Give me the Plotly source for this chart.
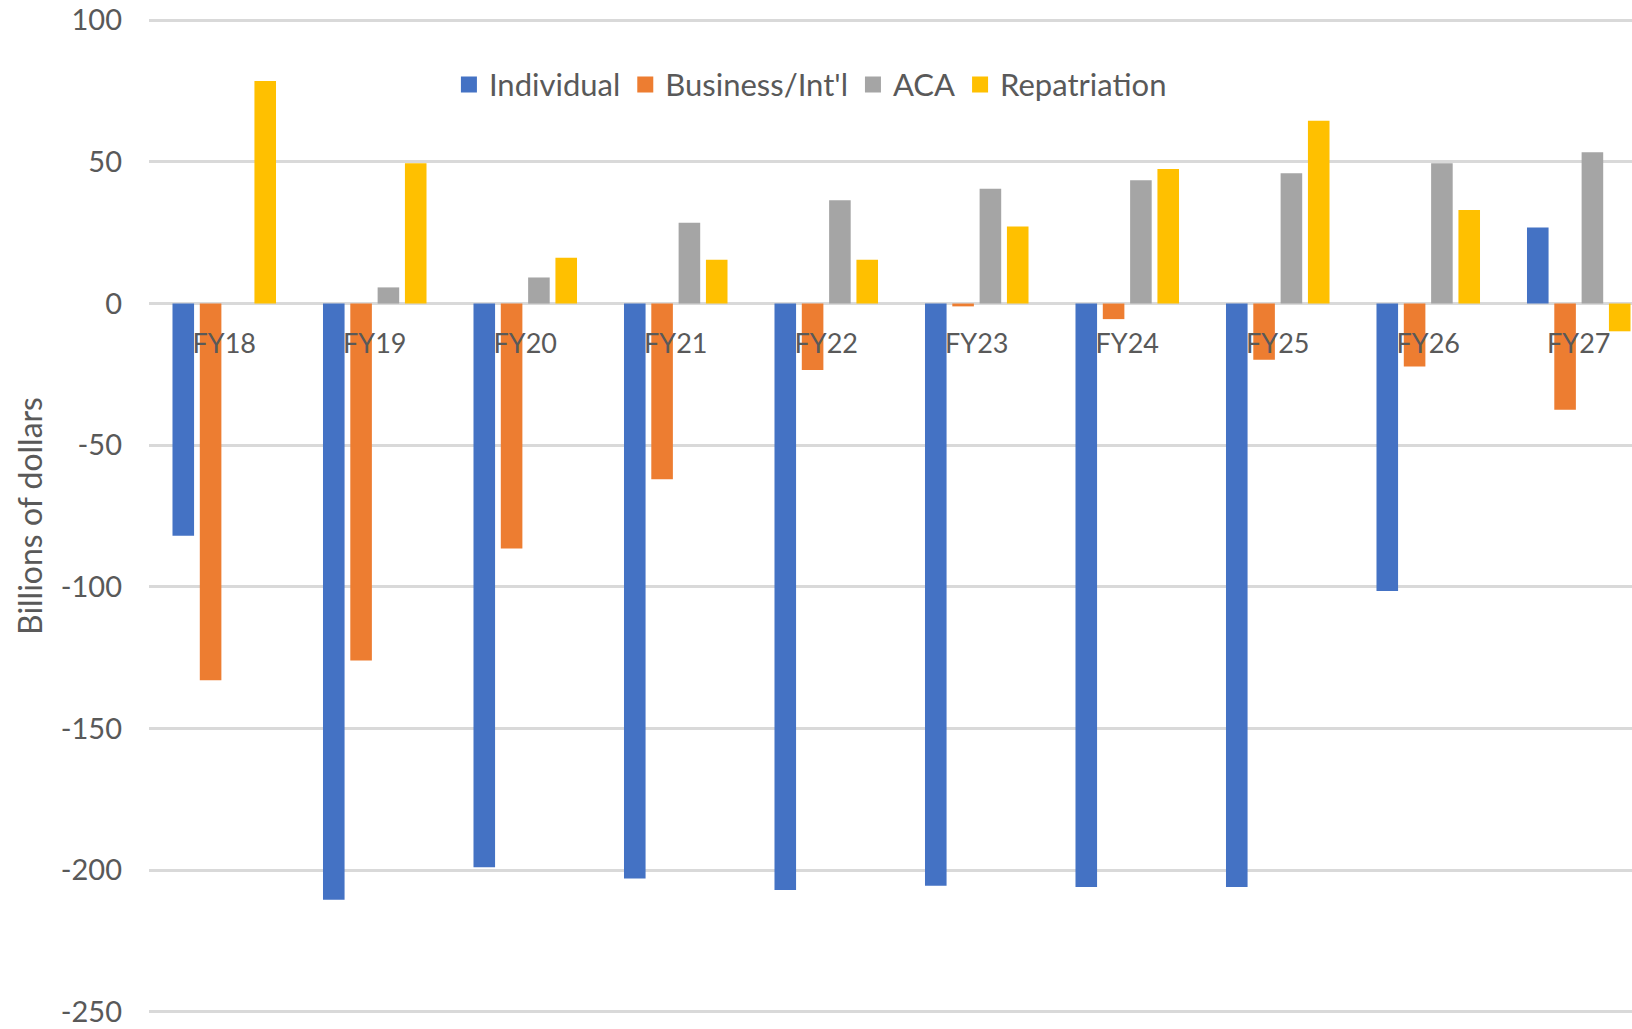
import plotly.graph_objects as go

categories = ["FY18", "FY19", "FY20", "FY21", "FY22", "FY23", "FY24", "FY25", "FY26", "FY27"]
individual = [-82, -210.5, -199, -203, -207, -205.5, -206, -206, -101.5, 26.8]
business = [-133, -126, -86.5, -62, -23.5, -1, -5.5, -19.8, -22.2, -37.5]
aca = [0, 5.7, 9.2, 28.5, 36.5, 40.5, 43.5, 46, 49.5, 53.4]
repatriation = [78.6, 49.5, 16.2, 15.5, 15.5, 27.2, 47.5, 64.5, 33, -9.8]

series_names = ["Individual", "Business/Int'l", "ACA", "Repatriation"]
series_colors = ["#4472C4", "#ED7D31", "#A5A5A5", "#FFC000"]

ytick_vals = [100, 50, 0, -50, -100, -150, -200, -250]
ytick_text = ["100", "50", "0", "-50", "-100", "-150", "-200", "-250"]

FONT = "Lato"
TEXT_COLOR = "#595959"

fig = go.Figure()
for name, vals, col in zip(series_names, [individual, business, aca, repatriation], series_colors):
    fig.add_trace(go.Bar(
        x=categories, y=vals, name=name, showlegend=False,
        marker=dict(color=col, line=dict(width=0)),
    ))
# legend entries with larger square swatches
for name, col in zip(series_names, series_colors):
    fig.add_trace(go.Scatter(
        x=[None], y=[None], name=name, mode="markers",
        marker=dict(symbol="square", size=16, color=col),
    ))

W, H = 1632, 1029
top_px, bottom_px = 19.8, 1011.7
px_per_unit = (bottom_px - top_px) / 350
pad_units = 0.8
ml, mr = 149, 0
mt = top_px - pad_units * px_per_unit
mb = (H - bottom_px) - pad_units * px_per_unit
cat_px = 150.5
plot_w = W - ml - mr
x_end = -0.5 + plot_w / cat_px

fig.update_layout(
    width=W, height=H,
    margin=dict(l=ml, r=mr, t=mt, b=mb, pad=0),
    paper_bgcolor="white", plot_bgcolor="white",
    barmode="group", bargap=0.274, bargroupgap=0.21,
    font=dict(family=FONT, color=TEXT_COLOR),
    showlegend=True,
    legend=dict(
        orientation="h", x=0.446, xanchor="center", y=0.933, yanchor="middle",
        font=dict(family=FONT, size=31, color=TEXT_COLOR),
        bgcolor="rgba(0,0,0,0)", itemsizing="trace",
    ),
    xaxis=dict(
        type="category", range=[-0.5, x_end],
        anchor="free", position=(250 - pad_units) / (350 + 2 * pad_units),
        showgrid=False, showline=False, zeroline=False, ticks="",
        tickfont=dict(family=FONT, size=27, color=TEXT_COLOR),
        ticklabelstandoff=17,
    ),
    yaxis=dict(
        range=[-250 - pad_units, 100 + pad_units], tickvals=ytick_vals, ticktext=ytick_text,
        showgrid=True, gridcolor="#D9D9D9", gridwidth=2.5,
        zeroline=True, zerolinecolor="#D9D9D9", zerolinewidth=3,
        showline=False, ticks="",
        tickfont=dict(family=FONT, size=29, color=TEXT_COLOR),
        ticklabelstandoff=26,
        title=dict(text="Billions of dollars", standoff=8,
                   font=dict(family=FONT, size=32, color=TEXT_COLOR)),
    ),
)

fig.write_html("out.html")
